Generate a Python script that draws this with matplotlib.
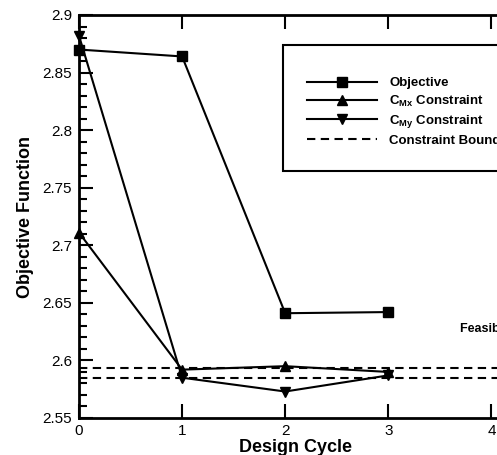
import matplotlib
matplotlib.use("Agg")
import matplotlib.pyplot as plt
from matplotlib.ticker import MultipleLocator, FuncFormatter
from matplotlib.lines import Line2D
from matplotlib.patches import Rectangle

plt.rcParams['font.family'] = ['Liberation Sans', 'DejaVu Sans']
plt.rcParams['mathtext.fontset'] = 'custom'
plt.rcParams['mathtext.rm'] = 'Liberation Sans'
plt.rcParams['mathtext.bf'] = 'Liberation Sans:bold'

# ---- data ----
cycles = [0, 1, 2, 3]
objective = [2.870, 2.864, 2.641, 2.642]
cmx_constraint = [2.711, 2.592, 2.595, 2.590]
cmy_constraint = [2.882, 2.585, 2.573, 2.587]
bound_upper = 2.593
bound_lower = 2.585
bound_x = [0, 4.2]
x_ticks = [0, 1, 2, 3, 4]
series_labels = ["Objective", r"C$_{\mathbf{Mx}}$ Constraint",
                 r"C$_{\mathbf{My}}$ Constraint", "Constraint Boundaries"]

W, H = 497, 455
fig = plt.figure(figsize=(W / 100, H / 100), dpi=100)
left, right, top, bottom = 79, 512, 15, 418
ax = fig.add_axes([left / W, 1 - bottom / H, (right - left) / W, (bottom - top) / H])

lw = 1.5
dash = (0, (4, 2.6))
ax.plot(cycles, objective, color='black', lw=lw, marker='s', ms=6.5, clip_on=False, zorder=4)
ax.plot(cycles, cmx_constraint, color='black', lw=lw, marker='^', ms=7, clip_on=False, zorder=4)
ax.plot(cycles, cmy_constraint, color='black', lw=lw, marker='v', ms=7, clip_on=False, zorder=4)
for b in (bound_upper, bound_lower):
    ax.plot(bound_x, [b, b], color='black', lw=lw, ls=dash, zorder=3)

ax.set_xlim(0, 4.2)
ax.set_ylim(2.55, 2.9)
ax.set_xticks(x_ticks)
ax.yaxis.set_major_locator(MultipleLocator(0.05))
ax.yaxis.set_minor_locator(MultipleLocator(0.01))
ax.yaxis.set_major_formatter(FuncFormatter(lambda v, p: f"{round(v, 2):g}"))
ax.tick_params(which='both', direction='in', top=True, right=True, width=1.5,
               labelsize=11, colors='black')
ax.tick_params(which='major', length=10)
ax.tick_params(which='minor', length=6)
ax.tick_params(axis='x', pad=4)
ax.tick_params(axis='y', pad=5)
for s in ax.spines.values():
    s.set_linewidth(2)

ax.set_xlabel("Design Cycle", fontsize=13, fontweight='bold', labelpad=1)
ax.set_ylabel("Objective Function", fontsize=13, fontweight='bold', labelpad=6)

ax.text(3.70, 2.627, "Feasible Region", fontsize=9, fontweight='bold', va='center', ha='left')

# legend frame (box extends past the right edge, as in the reference)
fig.patches.append(Rectangle((283 / W, 1 - 171 / H), (620 - 283) / W, (171 - 45) / H,
                             transform=fig.transFigure, fill=True, facecolor='white',
                             edgecolor='black', lw=1.5, zorder=5))

handles = [
    Line2D([], [], color='black', lw=lw, marker='s', ms=6.5),
    Line2D([], [], color='black', lw=lw, marker='^', ms=7),
    Line2D([], [], color='black', lw=lw, marker='v', ms=7),
    Line2D([], [], color='black', lw=lw, ls=dash),
]
leg = fig.legend(handles, series_labels, loc='upper left',
                 bbox_to_anchor=(307 / W, 1 - 77 / H), bbox_transform=fig.transFigure,
                 frameon=False, borderpad=0, borderaxespad=0,
                 handlelength=5.3, handletextpad=0.95, labelspacing=0.33,
                 prop={'weight': 'bold', 'size': 9.5})
leg.set_zorder(6)

fig.savefig("out.png", dpi=100)
